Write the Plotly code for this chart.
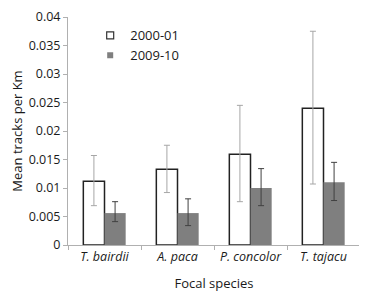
import plotly.graph_objects as go

species = ["T. bairdii", "A. paca", "P. concolor", "T. tajacu"]
species_labels = ["<i>T. bairdii</i>", "<i>A. paca</i>", "<i>P. concolor</i>", "<i>T. tajacu</i>"]

mean_2000 = [0.0112, 0.0133, 0.0159, 0.0240]
upper_2000 = [0.0157, 0.0175, 0.0245, 0.0375]
lower_2000 = [0.0069, 0.0092, 0.0076, 0.0107]

mean_2009 = [0.0056, 0.0056, 0.0100, 0.0110]
upper_2009 = [0.0076, 0.0081, 0.0134, 0.0145]
lower_2009 = [0.0041, 0.0034, 0.0069, 0.0078]

y_ticks = [0, 0.005, 0.01, 0.015, 0.02, 0.025, 0.03, 0.035, 0.04]
y_tick_text = ["0", "0.005", "0.01", "0.015", "0.02", "0.025", "0.03", "0.035", "0.04"]

def err(means, ups, lows):
    return ([u - m for u, m in zip(ups, means)], [m - l for m, l in zip(means, lows)])

p2000, m2000 = err(mean_2000, upper_2000, lower_2000)
p2009, m2009 = err(mean_2009, upper_2009, lower_2009)

FONT = "Open Sans"
TXT = "#1a1a1a"
fig = go.Figure()
fig.add_trace(go.Bar(
    name="2000-01", x=species_labels, y=mean_2000, showlegend=False,
    marker=dict(color="white", line=dict(color="#222222", width=1.5)),
    error_y=dict(type="data", symmetric=False, array=p2000, arrayminus=m2000,
                 color="#a6a6a6", thickness=1, width=3),
))
fig.add_trace(go.Bar(
    name="2009-10", x=species_labels, y=mean_2009, showlegend=False,
    marker=dict(color="#7f7f7f", line=dict(width=0)),
    error_y=dict(type="data", symmetric=False, array=p2009, arrayminus=m2009,
                 color="#404040", thickness=1, width=3),
))
# legend entries with small square keys
fig.add_trace(go.Scatter(
    name="2000-01", x=[None], y=[None], mode="markers",
    marker=dict(symbol="square", size=7, color="white", line=dict(color="#333333", width=1.2)),
))
fig.add_trace(go.Scatter(
    name="2009-10", x=[None], y=[None], mode="markers",
    marker=dict(symbol="square", size=6, color="#7f7f7f", line=dict(width=0)),
))

fig.update_layout(
    width=367, height=298,
    margin=dict(l=60, r=15, t=9, b=61, autoexpand=False),
    paper_bgcolor="white", plot_bgcolor="white",
    barmode="group", bargap=0.42, bargroupgap=0,
    font=dict(family=FONT, size=12, color=TXT),
    showlegend=True,
    legend=dict(x=0.076, y=0.985, xanchor="left", yanchor="top",
                bgcolor="rgba(0,0,0,0)", font=dict(size=13, family=FONT, color=TXT),
                tracegroupgap=0, itemwidth=30),
    xaxis=dict(
        title=dict(text="Focal species", font=dict(size=13, family=FONT, color=TXT), standoff=14),
        showline=True, linecolor="#b0b0b0", linewidth=1,
        ticks="outside", ticklen=4, tickcolor="#b0b0b0",
        tickson="boundaries", tickfont=dict(size=12.5, family=FONT, color=TXT),
        showgrid=False, automargin=False,
    ),
    yaxis=dict(
        title=dict(text="Mean tracks per Km", font=dict(size=13, family=FONT, color=TXT), standoff=8),
        range=[0, 0.04], tickvals=y_ticks, ticktext=y_tick_text,
        showline=True, linecolor="#b0b0b0", linewidth=1,
        ticks="outside", ticklen=4, tickcolor="#b0b0b0",
        showgrid=False, zeroline=False, tickfont=dict(size=12.5, family=FONT, color=TXT),
        automargin=False,
    ),
)

fig.write_html("out.html")
